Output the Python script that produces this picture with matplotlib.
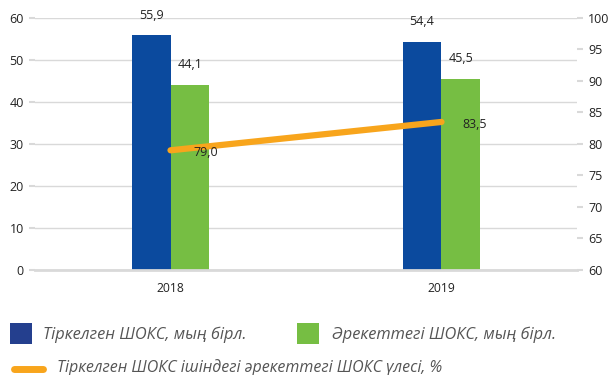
import matplotlib.pyplot as plt
import numpy as np
from matplotlib.lines import Line2D

years = ["2018", "2019"]
registered = [55.9, 54.4]
active = [44.1, 45.5]
share = [79.0, 83.5]

blue = "#0B4A9E"
green = "#76BE43"
orange = "#F8A51C"
grid_c = "#D9D9D9"
txt = "#222222"

plt.rcParams['font.family'] = ['Open Sans', 'DejaVu Sans']

fig = plt.figure(figsize=(6.11, 3.75), dpi=100)
ax = fig.add_axes([35/611, 1 - 270/375, (577-35)/611, (270-18)/375])
ax2 = ax.twinx()

x = np.arange(len(years))
w = 0.143
ax.bar(x - w/2, registered, w, color=blue, zorder=2)
ax.bar(x + w/2, active, w, color=green, zorder=2)

for xi, v in zip(x - w/2, registered):
    ax.annotate(f"{v:.1f}".replace(".", ","), (xi, v), xytext=(0, 14.5), textcoords="offset points",
                ha="center", va="center", fontsize=9, color=txt)
for xi, v in zip(x + w/2, active):
    ax.annotate(f"{v:.1f}".replace(".", ","), (xi, v), xytext=(0, 14.5), textcoords="offset points",
                ha="center", va="center", fontsize=9, color=txt)

ax.set_ylim(0, 60)
ax.set_yticks(range(0, 61, 10))
ax.set_xlim(-0.5, 1.5)
ax.set_xticks(x)
ax.set_xticklabels(years)
ax.grid(axis="y", color=grid_c, linewidth=1, zorder=0)
ax.set_axisbelow(True)

for s in ["top", "right", "left"]:
    ax.spines[s].set_visible(False)
    ax2.spines[s].set_visible(False)
ax2.spines["bottom"].set_visible(False)
ax.spines["bottom"].set_color(grid_c)
ax.spines["bottom"].set_linewidth(2)
ax.tick_params(axis="y", length=4, color=grid_c, width=1.5, labelsize=9, labelcolor=txt, pad=4)
ax.tick_params(axis="x", length=0, labelsize=8.7, labelcolor=txt, pad=9)

ax2.plot(x, share, color=orange, linewidth=4.5, solid_capstyle="round", zorder=5)
ax2.set_ylim(60, 100)
ax2.set_yticks(range(60, 101, 5))
ax2.tick_params(axis="y", length=4, color=grid_c, width=1.5, labelsize=9, labelcolor=txt, pad=4)
for xi, v, dx in zip(x, share, [16.5, 15]):
    ax2.annotate(f"{v:.1f}".replace(".", ","), (xi, v), xytext=(dx, -1.5), textcoords="offset points",
                 ha="left", va="center", fontsize=9, color=txt, zorder=6)

leg_c = "#555555"
fig.add_artist(plt.Rectangle((10/611, 1 - 344/375), 22/611, 21/375, transform=fig.transFigure,
                             facecolor="#243F8E", edgecolor="none"))
fig.add_artist(plt.Rectangle((297/611, 1 - 344/375), 22/611, 21/375, transform=fig.transFigure,
                             facecolor=green, edgecolor="none"))
fig.add_artist(Line2D([14/611, 43/611], [1 - 369/375, 1 - 369/375], transform=fig.transFigure,
                      color=orange, linewidth=5, solid_capstyle="round"))
fig.text(43/611, 1 - 335/375, "Тіркелген ШОКС, мың бірл.", fontsize=11.8, style="italic",
         color=leg_c, va="center", ha="left")
fig.text(332/611, 1 - 335/375, "Әрекеттегі ШОКС, мың бірл.", fontsize=11.8, style="italic",
         color=leg_c, va="center", ha="left")
fig.text(57/611, 1 - 368/375, "Тіркелген ШОКС ішіндегі әрекеттегі ШОКС үлесі, %", fontsize=11.5,
         style="italic", color=leg_c, va="center", ha="left")

fig.savefig("out.png", dpi=100)
